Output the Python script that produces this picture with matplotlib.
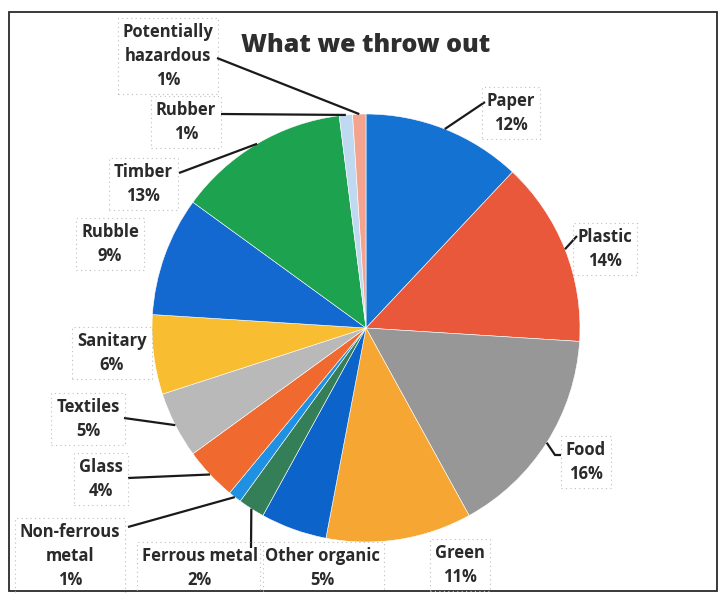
import numpy as np
import matplotlib
matplotlib.use("Agg")
import matplotlib.pyplot as plt
from matplotlib.lines import Line2D
from matplotlib.patches import Rectangle

# Waste composition (% of total)
categories = ["Paper", "Plastic", "Food", "Green", "Other organic", "Ferrous metal",
              "Non-ferrous\nmetal", "Glass", "Textiles", "Sanitary", "Rubble",
              "Timber", "Rubber", "Potentially\nhazardous"]
shares = [12, 14, 16, 11, 5, 2, 1, 4, 5, 6, 9, 13, 1, 1]
colors = ["#1472d2", "#e9583b", "#979797", "#f6a632", "#0c63c9", "#347f57",
          "#1f90e2", "#f06a2f", "#b9b9b9", "#f8bd30", "#1369cf", "#1da24f",
          "#bfd9f0", "#f4a48e"]
title = "What we throw out"

W, H = 719, 593
CX, CY, R = 366, 328, 214          # pie centre and radius in pixels

# label block centres (pixels) and leader start points (pixels, None = no leader)
label_pos = [(511, 113), (605, 249), (586, 462), (460, 565), (322, 568), (200, 568),
             (70, 556), (101, 479), (88, 419), (112, 353), (110, 244),
             (143, 184), (186, 122), (168, 56)]
leader_start = [[(485, 102)], [(577, 236)], [(561, 455), (555, 455)], None, None,
                [(251, 548)], [(128, 527)], [(128, 478)], [(124, 418)], None, None,
                [(179, 173)], [(221, 114)], [(217, 58)]]

plt.rcParams["font.family"] = ["Open Sans", "DejaVu Sans"]
TXT = "#2a2a2a"

fig = plt.figure(figsize=(W / 100, H / 100), dpi=100)
fig.patch.set_facecolor("white")


def ff(px, py):
    return px / W, 1 - py / H


ax = fig.add_axes([(CX - R) / W, 1 - (CY + R) / H, 2 * R / W, 2 * R / H])
wedges, _ = ax.pie(shares, colors=colors, startangle=90, counterclock=False,
                   radius=1, wedgeprops=dict(edgecolor="white", linewidth=0.4))
ax.set_xlim(-1, 1)
ax.set_ylim(-1, 1)
ax.set_aspect("equal")
ax.axis("off")

fig.canvas.draw()
for w, name, val, pos, lead in zip(wedges, categories, shares, label_pos, leader_start):
    lx, ly = ff(*pos)
    fig.text(lx, ly, f"{name}\n{val}%", ha="center", va="center", fontsize=12,
             fontweight="bold", color=TXT, linespacing=1.4,
             bbox=dict(boxstyle="square,pad=0.3", fc="none", ec="#bdbdbd",
                       ls=(0, (1, 3)), lw=0.8))
    if lead is not None:
        mid = np.deg2rad((w.theta1 + w.theta2) / 2)
        ex, ey = ax.transData.transform((np.cos(mid), np.sin(mid)))
        pts = [ff(*p) for p in lead] + [(ex / W, ey / H)]
        xs, ys = zip(*pts)
        fig.add_artist(Line2D(xs, ys, transform=fig.transFigure, color="#1a1a1a",
                              lw=1.6, solid_capstyle="butt"))

tx, ty = ff(366, 45)
fig.text(tx, ty, title, ha="center", va="center", fontsize=18, fontweight="heavy",
         color="#2e2e2e")

# chart area border
x0, y0 = ff(9, 591)
x1, y1 = ff(717, 12)
fig.add_artist(Rectangle((x0, y0), x1 - x0, y1 - y0, transform=fig.transFigure,
                         fill=False, ec="#2a2a2a", lw=1.3))

fig.savefig("out.png", dpi=100, facecolor="white")
